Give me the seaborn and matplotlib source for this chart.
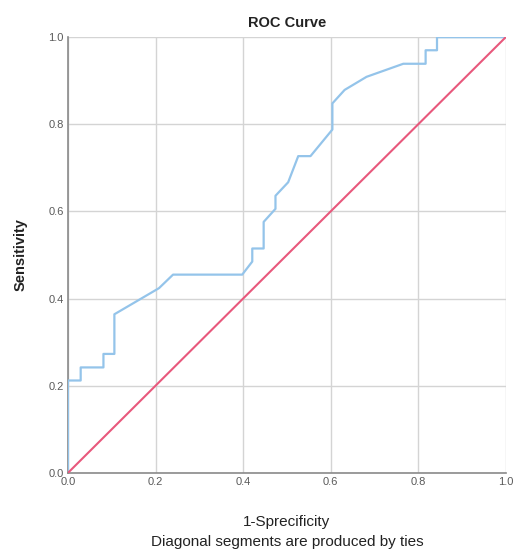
import matplotlib
matplotlib.use("Agg")
import matplotlib.pyplot as plt
import seaborn as sns
import pandas as pd

# ROC curve points
fpr = [0.0, 0.0, 0.029, 0.029, 0.081, 0.081, 0.106, 0.106, 0.208, 0.240, 0.398,
       0.421, 0.421, 0.447, 0.447, 0.474, 0.474, 0.503, 0.526, 0.554, 0.604,
       0.604, 0.632, 0.682, 0.766, 0.817, 0.817, 0.843, 0.843, 1.0]
tpr = [0.0, 0.212, 0.212, 0.242, 0.242, 0.273, 0.273, 0.364, 0.424, 0.455, 0.455,
       0.485, 0.515, 0.515, 0.576, 0.606, 0.636, 0.667, 0.727, 0.727, 0.788,
       0.848, 0.879, 0.909, 0.939, 0.939, 0.970, 0.970, 1.0, 1.0]
ref_x = [0.0, 1.0]
ref_y = [0.0, 1.0]
ticks = [0.0, 0.2, 0.4, 0.6, 0.8, 1.0]
tick_labels = ["0.0", "0.2", "0.4", "0.6", "0.8", "1.0"]

sns.set_style("white")
plt.rcParams['font.family'] = ['Liberation Sans', 'DejaVu Sans']

fig = plt.figure(figsize=(5.15, 5.55), dpi=100)
ax = fig.add_axes([0.132, 0.148, 0.850, 0.785])

roc = pd.DataFrame({"x": fpr, "y": tpr})
diag = pd.DataFrame({"x": ref_x, "y": ref_y})
sns.lineplot(data=roc, x="x", y="y", sort=False, estimator=None, ax=ax,
             color="#94c4ea", linewidth=1.6, zorder=3)
sns.lineplot(data=diag, x="x", y="y", sort=False, estimator=None, ax=ax,
             color="#e8587c", linewidth=1.5, zorder=4)

ax.set_xlim(0, 1)
ax.set_ylim(0, 1)
ax.set_xticks(ticks)
ax.set_yticks(ticks)
ax.set_xticklabels(tick_labels)
ax.set_yticklabels(tick_labels)
ax.grid(True, color="#d4d4d4", linewidth=1.0)
ax.set_axisbelow(True)
for s in ["top", "right"]:
    ax.spines[s].set_visible(False)
for s in ["left", "bottom"]:
    ax.spines[s].set_color("#8a8a8a")
    ax.spines[s].set_linewidth(1.2)
ax.tick_params(axis="both", length=0, labelsize=8, labelcolor="#5a5a5a", pad=3)

ax.set_title("ROC Curve", fontsize=10.5, fontweight="bold", pad=7, color="#222222")
ax.set_ylabel("Sensitivity", fontsize=10.5, fontweight="bold", labelpad=15, color="#222222")
ax.set_xlabel("1-Sprecificity\nDiagonal segments are produced by ties", fontsize=11,
              labelpad=20, color="#222222", linespacing=1.55)

fig.savefig("out.png", dpi=100, facecolor="white")
